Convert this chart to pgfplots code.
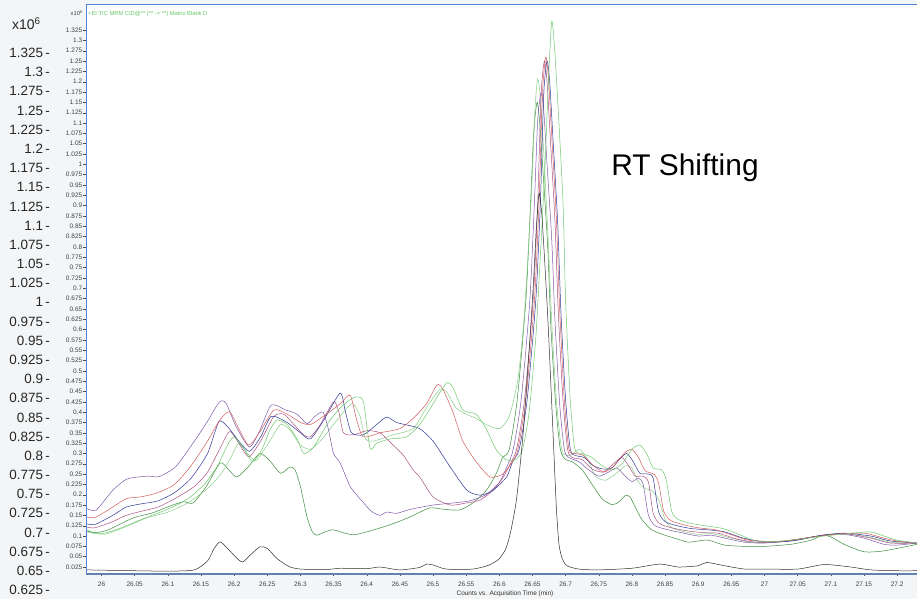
\documentclass[border=0pt]{standalone}
\usepackage{fontspec}
\setmainfont{Liberation Sans}
\usepackage{pgfplots}
\pgfplotsset{compat=1.18}
\definecolor{bgc}{RGB}{243,245,247}
\definecolor{frameblue}{RGB}{80,130,215}
\definecolor{cP}{RGB}{128,90,170}
\definecolor{cM}{RGB}{175,80,130}
\definecolor{cB}{RGB}{45,55,150}
\definecolor{cR}{RGB}{212,92,92}
\definecolor{cLGA}{RGB}{110,200,110}
\definecolor{cLGB}{RGB}{135,208,135}
\definecolor{cDG}{RGB}{60,140,60}
\definecolor{cK}{RGB}{45,45,45}
\definecolor{titlegreen}{RGB}{100,200,100}
\begin{document}
\begin{tikzpicture}
\fill[bgc] (0,0) rectangle (917bp,599bp);
\fill[white] (86bp,26bp) rectangle (917bp,594bp);
\begin{axis}[
  at={(86bp,26bp)}, anchor=south west,
  width=831bp, height=568bp, scale only axis,
  xmin=25.9766, xmax=27.23, ymin=0.0105, ymax=1.3858,
  axis line style={draw=none},
  xtick={26,26.05,...,27.21},
  ytick={0.025,0.05,...,1.33},
  xtick pos=left, ytick pos=left,
  tick align=outside, major tick length=3bp,
  tick style={black!70, line width=0.4pt},
  /pgf/number format/assume math mode=true,
  x tick label style={font=\fontsize{6.5}{7}\selectfont, text=black!75, inner sep=0pt, yshift=-5.5bp,
     /pgf/number format/.cd, fixed, precision=2},
  y tick label style={font=\fontsize{6.5}{7}\selectfont, text=black!75, inner sep=0.6pt,
     /pgf/number format/.cd, fixed, precision=3},
  every axis plot/.append style={line width=0.5pt, smooth, tension=0.4},
  clip=true,
]
% dark green
\addplot[cDG] coordinates {(25.977,0.113)(25.99,0.108)(26.01,0.115)(26.048,0.144)(26.075,0.155)(26.099,0.17)(26.123,0.183)(26.138,0.18)(26.158,0.22)(26.179,0.277)(26.192,0.26)(26.204,0.243)(26.22,0.265)(26.239,0.30)(26.255,0.28)(26.27,0.252)(26.284,0.267)(26.292,0.26)(26.3,0.22)(26.31,0.146)(26.318,0.11)(26.325,0.102)(26.337,0.11)(26.349,0.115)(26.365,0.108)(26.38,0.103)(26.4,0.11)(26.425,0.122)(26.445,0.133)(26.465,0.146)(26.495,0.168)(26.515,0.165)(26.54,0.163)(26.56,0.18)(26.58,0.21)(26.595,0.25)(26.605,0.29)(26.615,0.31)(26.627,0.43)(26.64,0.67)(26.647,0.9)(26.652,1.08)(26.657,1.15)(26.661,1.1)(26.666,0.98)(26.673,0.8)(26.678,0.6)(26.685,0.42)(26.692,0.31)(26.7,0.285)(26.71,0.28)(26.725,0.26)(26.74,0.225)(26.755,0.19)(26.77,0.176)(26.78,0.182)(26.79,0.198)(26.797,0.195)(26.805,0.17)(26.815,0.14)(26.83,0.115)(26.85,0.102)(26.87,0.092)(26.885,0.085)(26.9,0.088)(26.915,0.09)(26.94,0.078)(26.97,0.075)(27.0,0.075)(27.04,0.08)(27.07,0.09)(27.088,0.102)(27.1,0.098)(27.12,0.08)(27.15,0.062)(27.18,0.064)(27.23,0.08)};
% light green B
\addplot[cLGB] coordinates {(25.977,0.11)(25.995,0.105)(26.01,0.106)(26.04,0.125)(26.07,0.145)(26.1,0.158)(26.13,0.18)(26.16,0.215)(26.18,0.25)(26.195,0.29)(26.207,0.325)(26.22,0.30)(26.233,0.283)(26.25,0.32)(26.27,0.37)(26.285,0.355)(26.3,0.32)(26.315,0.31)(26.33,0.33)(26.35,0.37)(26.37,0.41)(26.38,0.42)(26.39,0.39)(26.398,0.335)(26.41,0.33)(26.44,0.345)(26.47,0.36)(26.49,0.41)(26.51,0.455)(26.52,0.45)(26.535,0.41)(26.55,0.395)(26.565,0.385)(26.58,0.37)(26.6,0.36)(26.615,0.39)(26.628,0.48)(26.637,0.62)(26.644,0.8)(26.649,0.95)(26.654,1.14)(26.658,1.207)(26.662,1.16)(26.667,1.03)(26.673,0.84)(26.679,0.62)(26.686,0.43)(26.694,0.31)(26.703,0.295)(26.712,0.30)(26.722,0.31)(26.735,0.28)(26.745,0.245)(26.76,0.235)(26.775,0.25)(26.79,0.27)(26.8,0.265)(26.81,0.23)(26.82,0.215)(26.83,0.21)(26.84,0.19)(26.85,0.14)(26.86,0.12)(26.88,0.11)(26.9,0.104)(26.92,0.106)(26.95,0.095)(26.98,0.085)(27.02,0.085)(27.07,0.097)(27.11,0.106)(27.15,0.1)(27.19,0.085)(27.23,0.083)};
% purple
\addplot[cP] coordinates {(25.977,0.167)(25.992,0.163)(26.017,0.211)(26.037,0.237)(26.055,0.243)(26.072,0.245)(26.087,0.244)(26.112,0.268)(26.138,0.325)(26.158,0.373)(26.178,0.425)(26.188,0.421)(26.203,0.365)(26.223,0.316)(26.238,0.353)(26.256,0.417)(26.278,0.405)(26.295,0.395)(26.31,0.372)(26.322,0.39)(26.334,0.40)(26.342,0.36)(26.35,0.30)(26.36,0.277)(26.375,0.22)(26.39,0.19)(26.407,0.16)(26.42,0.15)(26.43,0.158)(26.445,0.155)(26.467,0.165)(26.5,0.175)(26.53,0.18)(26.555,0.185)(26.58,0.20)(26.6,0.23)(26.612,0.27)(26.621,0.31)(26.633,0.43)(26.646,0.67)(26.653,0.91)(26.658,1.11)(26.663,1.173)(26.667,1.13)(26.672,1.0)(26.679,0.82)(26.684,0.62)(26.691,0.42)(26.698,0.31)(26.705,0.29)(26.72,0.28)(26.735,0.26)(26.75,0.245)(26.765,0.255)(26.777,0.265)(26.79,0.245)(26.80,0.232)(26.81,0.24)(26.817,0.225)(26.825,0.15)(26.835,0.125)(26.855,0.115)(26.875,0.108)(26.9,0.10)(26.92,0.102)(26.94,0.095)(26.97,0.085)(27.0,0.083)(27.05,0.09)(27.09,0.103)(27.12,0.104)(27.15,0.095)(27.18,0.08)(27.2,0.078)(27.23,0.083)};
% mauve
\addplot[cM] coordinates {(25.977,0.122)(25.99,0.12)(26.017,0.135)(26.037,0.15)(26.06,0.16)(26.085,0.17)(26.11,0.19)(26.14,0.22)(26.16,0.255)(26.178,0.31)(26.193,0.353)(26.205,0.33)(26.222,0.292)(26.24,0.33)(26.26,0.39)(26.275,0.395)(26.29,0.37)(26.305,0.345)(26.315,0.34)(26.33,0.37)(26.35,0.425)(26.358,0.40)(26.365,0.35)(26.38,0.345)(26.4,0.355)(26.42,0.35)(26.44,0.32)(26.455,0.296)(26.47,0.26)(26.48,0.243)(26.5,0.195)(26.526,0.175)(26.55,0.18)(26.571,0.187)(26.59,0.21)(26.605,0.24)(26.615,0.27)(26.626,0.31)(26.638,0.43)(26.651,0.67)(26.658,0.91)(26.663,1.17)(26.668,1.25)(26.672,1.2)(26.677,1.06)(26.684,0.86)(26.689,0.64)(26.696,0.43)(26.703,0.31)(26.71,0.29)(26.725,0.285)(26.74,0.262)(26.757,0.255)(26.772,0.275)(26.785,0.29)(26.795,0.27)(26.805,0.245)(26.817,0.245)(26.825,0.23)(26.832,0.155)(26.842,0.13)(26.86,0.12)(26.885,0.112)(26.91,0.108)(26.93,0.107)(26.96,0.092)(26.99,0.085)(27.03,0.087)(27.08,0.1)(27.12,0.106)(27.16,0.095)(27.19,0.083)(27.23,0.083)};
% blue
\addplot[cB] coordinates {(25.977,0.13)(25.99,0.128)(26.017,0.15)(26.037,0.17)(26.06,0.178)(26.085,0.185)(26.11,0.205)(26.135,0.24)(26.16,0.30)(26.177,0.377)(26.19,0.365)(26.207,0.33)(26.223,0.305)(26.24,0.34)(26.256,0.39)(26.28,0.375)(26.3,0.35)(26.315,0.335)(26.335,0.38)(26.36,0.446)(26.368,0.40)(26.377,0.35)(26.395,0.345)(26.415,0.37)(26.43,0.388)(26.445,0.375)(26.46,0.369)(26.48,0.36)(26.5,0.33)(26.526,0.267)(26.551,0.211)(26.571,0.199)(26.59,0.21)(26.611,0.243)(26.62,0.28)(26.63,0.31)(26.642,0.43)(26.655,0.67)(26.662,0.91)(26.667,1.17)(26.672,1.25)(26.676,1.2)(26.681,1.06)(26.688,0.86)(26.693,0.64)(26.7,0.43)(26.707,0.31)(26.715,0.295)(26.728,0.29)(26.742,0.27)(26.757,0.262)(26.77,0.265)(26.78,0.284)(26.792,0.30)(26.802,0.28)(26.812,0.252)(26.825,0.25)(26.832,0.24)(26.84,0.16)(26.85,0.135)(26.868,0.125)(26.89,0.118)(26.915,0.115)(26.94,0.11)(26.968,0.095)(27.0,0.086)(27.04,0.088)(27.08,0.1)(27.12,0.107)(27.16,0.1)(27.19,0.088)(27.23,0.083)};
% red
\addplot[cR] coordinates {(25.977,0.146)(25.99,0.145)(26.007,0.16)(26.037,0.19)(26.06,0.195)(26.085,0.205)(26.11,0.225)(26.135,0.27)(26.16,0.33)(26.178,0.38)(26.193,0.401)(26.207,0.36)(26.222,0.32)(26.238,0.35)(26.26,0.405)(26.28,0.395)(26.3,0.375)(26.315,0.37)(26.335,0.39)(26.36,0.42)(26.375,0.441)(26.385,0.38)(26.395,0.34)(26.42,0.35)(26.45,0.36)(26.47,0.385)(26.49,0.42)(26.506,0.466)(26.515,0.455)(26.53,0.40)(26.545,0.33)(26.565,0.28)(26.586,0.243)(26.605,0.25)(26.62,0.28)(26.628,0.31)(26.64,0.43)(26.653,0.67)(26.66,0.91)(26.665,1.17)(26.67,1.26)(26.674,1.21)(26.679,1.07)(26.686,0.87)(26.691,0.65)(26.698,0.43)(26.705,0.31)(26.714,0.30)(26.727,0.295)(26.742,0.27)(26.758,0.255)(26.773,0.27)(26.788,0.30)(26.8,0.31)(26.81,0.29)(26.82,0.258)(26.833,0.25)(26.84,0.23)(26.848,0.16)(26.858,0.138)(26.876,0.128)(26.9,0.12)(26.926,0.115)(26.95,0.103)(26.976,0.09)(27.02,0.087)(27.07,0.097)(27.11,0.105)(27.15,0.107)(27.18,0.095)(27.2,0.088)(27.23,0.083)};
% light green A
\addplot[cLGA] coordinates {(25.977,0.115)(25.99,0.108)(26.005,0.107)(26.03,0.12)(26.06,0.14)(26.1,0.165)(26.13,0.19)(26.155,0.225)(26.175,0.27)(26.19,0.32)(26.2,0.34)(26.215,0.31)(26.228,0.28)(26.242,0.31)(26.255,0.36)(26.265,0.381)(26.28,0.37)(26.295,0.335)(26.305,0.30)(26.32,0.315)(26.34,0.37)(26.36,0.41)(26.375,0.43)(26.385,0.437)(26.395,0.425)(26.405,0.313)(26.415,0.325)(26.435,0.335)(26.46,0.34)(26.48,0.37)(26.5,0.42)(26.52,0.47)(26.53,0.46)(26.545,0.405)(26.565,0.395)(26.58,0.36)(26.595,0.31)(26.61,0.285)(26.625,0.285)(26.635,0.31)(26.645,0.40)(26.655,0.58)(26.662,0.78)(26.669,1.0)(26.674,1.2)(26.679,1.345)(26.683,1.29)(26.688,1.156)(26.696,0.91)(26.70,0.67)(26.707,0.43)(26.714,0.31)(26.725,0.30)(26.74,0.29)(26.755,0.27)(26.77,0.26)(26.785,0.275)(26.80,0.31)(26.812,0.32)(26.822,0.30)(26.832,0.265)(26.845,0.26)(26.852,0.235)(26.86,0.16)(26.87,0.14)(26.888,0.131)(26.91,0.125)(26.938,0.118)(26.96,0.105)(26.988,0.088)(27.03,0.088)(27.079,0.098)(27.12,0.105)(27.159,0.11)(27.18,0.10)(27.2,0.09)(27.23,0.083)};
% black
\addplot[cK] coordinates {(25.977,0.018)(26.05,0.016)(26.1,0.015)(26.14,0.018)(26.16,0.04)(26.17,0.07)(26.179,0.086)(26.19,0.07)(26.205,0.045)(26.213,0.037)(26.225,0.055)(26.239,0.074)(26.25,0.07)(26.265,0.045)(26.283,0.026)(26.3,0.02)(26.34,0.019)(26.36,0.022)(26.4,0.021)(26.42,0.025)(26.45,0.018)(26.48,0.024)(26.49,0.032)(26.5,0.03)(26.52,0.02)(26.56,0.02)(26.585,0.03)(26.6,0.045)(26.61,0.07)(26.617,0.11)(26.626,0.19)(26.636,0.35)(26.645,0.55)(26.651,0.70)(26.656,0.85)(26.66,0.93)(26.664,0.88)(26.669,0.75)(26.674,0.6)(26.681,0.35)(26.686,0.17)(26.69,0.08)(26.695,0.045)(26.702,0.028)(26.72,0.02)(26.75,0.018)(26.8,0.022)(26.842,0.032)(26.87,0.025)(26.9,0.028)(26.913,0.036)(26.94,0.028)(26.97,0.02)(27.0,0.02)(27.05,0.02)(27.09,0.031)(27.13,0.025)(27.16,0.018)(27.2,0.016)(27.23,0.016)};
\end{axis}
% frame lines
\draw[frameblue, line width=1pt] (86bp,26bp) -- (86bp,594bp) -- (917bp,594bp);
\draw[frameblue!70!gray, line width=0.8pt] (86bp,26bp) -- (917bp,26bp);
\draw[frameblue!50!gray, line width=0.5pt] (86bp,24.3bp) -- (917bp,24.3bp);
% axis title below tick labels
\node[anchor=center, text=black!80, font=\fontsize{6.5}{7}\selectfont, inner sep=0pt] at (505bp,5bp) {Counts vs. Acquisition Time (min)};
% inner texts
\node[anchor=west, text=titlegreen, font=\fontsize{5.8}{6}\selectfont, inner sep=0pt] at (88bp,585bp) {+EI TIC MRM CID@** (** -> **) Matrix Blank D};
\node[anchor=east, text=black!75, font=\fontsize{5.8}{6}\selectfont, inner sep=0pt] at (83bp,586bp) {x10\textsuperscript{6}};
\node[anchor=center, font=\fontsize{30}{33}\selectfont] at (685bp,431bp) {RT Shifting};
% outer scale labels
\node[anchor=west, font=\fontsize{14}{16}\selectfont, text=black!85, inner sep=0pt] at (12bp,575bp) {x10\textsuperscript{6}};
\foreach \lab [count=\i from 0] in {1.325,1.3,1.275,1.25,1.225,1.2,1.175,1.15,1.125,1.1,1.075,1.05,1.025,1,0.975,0.95,0.925,0.9,0.875,0.85,0.825,0.8,0.775,0.75,0.725,0.7,0.675,0.65,0.625}{
  \pgfmathsetmacro\yy{599-53-\i*19.18}
  \node[anchor=east, font=\fontsize{13.5}{15}\selectfont, text=black!85, inner sep=0pt] at (50bp,\yy bp) {\lab\,-};
}
\pgfresetboundingbox
\path[use as bounding box] (0,0) rectangle (917bp,599bp);
\end{tikzpicture}
\end{document}
